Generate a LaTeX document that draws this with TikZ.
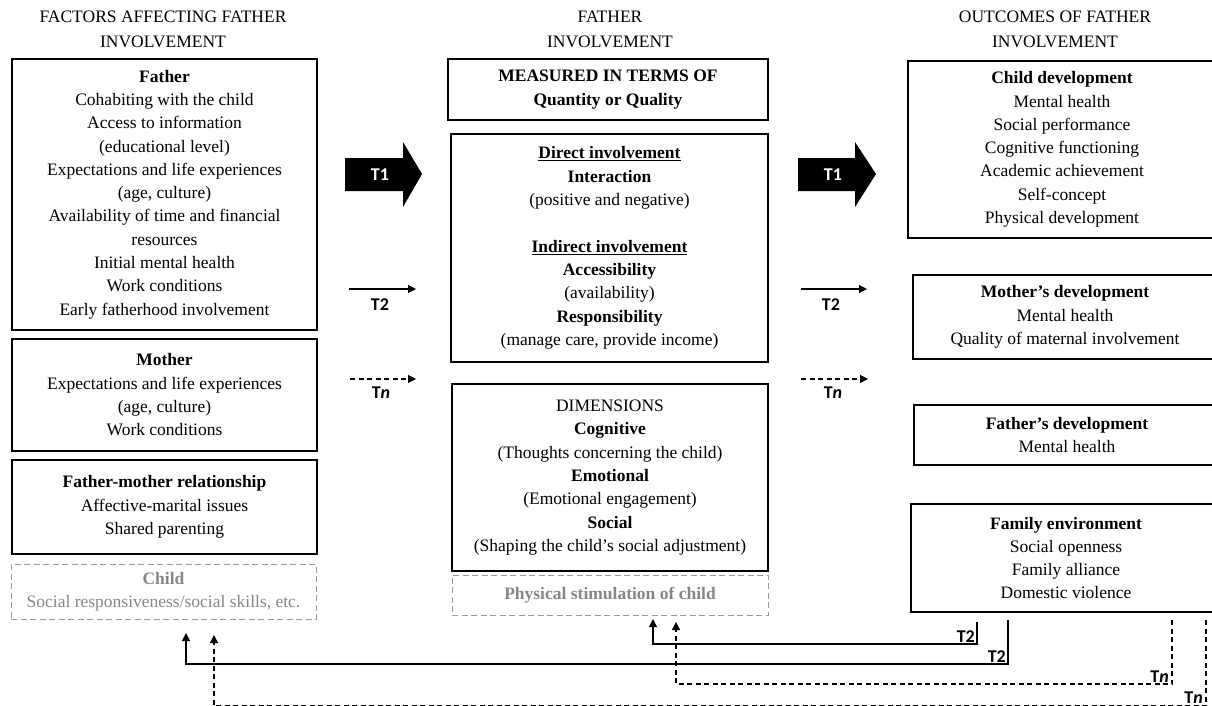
\documentclass[tikz,border=0pt]{standalone}
\usepackage{fontspec}
\setmainfont{Liberation Serif}
\newfontfamily\labfont{Carlito}
\usetikzlibrary{arrows.meta}
\begin{document}
\begin{tikzpicture}[x=1pt,y=-1pt,
  every node/.style={inner sep=0pt, align=center},
  txt/.style={font=\fontsize{17.5}{23.3}\selectfont},
  hdr/.style={font=\fontsize{17.5}{25}\selectfont},
  box/.style={draw, line width=1.2pt, txt},
  gbox/.style={draw=gray!80, dash pattern=on 6pt off 3.5pt, line width=1pt, txt, text=gray!95},
  lbl/.style={font=\labfont\bfseries\fontsize{18}{18}\selectfont},
  conn/.style={line width=1.1pt, -{Triangle[length=8pt,width=8pt]}},
  dconn/.style={conn, dash pattern=on 5pt off 3.5pt},
  bigarrow/.style={fill=black}
]
\useasboundingbox (0,0) rectangle (1212,706);

% headers
\node[hdr] (h1) at (163,29.5) {FACTORS AFFECTING FATHER\\INVOLVEMENT};
\node[hdr] (h2) at (610,29.5) {FATHER\\INVOLVEMENT};
\node[hdr] (h3) at (1055,29.5) {OUTCOMES OF FATHER\\INVOLVEMENT};

% left column
\node[box, minimum width=305pt, minimum height=271pt] (father) at (164.5,194.5)
 {\textbf{Father}\\Cohabiting with the child\\Access to information\\(educational level)\\Expectations and life experiences\\(age, culture)\\Availability of time and financial\\resources\\Initial mental health\\Work conditions\\Early fatherhood involvement};
\node[box, minimum width=305pt, minimum height=112pt] (mother) at (164.5,395)
 {\textbf{Mother}\\Expectations and life experiences\\(age, culture)\\Work conditions};
\node[box, minimum width=305pt, minimum height=94pt] (fmrel) at (164.5,507)
 {\textbf{Father-mother relationship}\\Affective-marital issues\\Shared parenting};
\node[gbox, minimum width=305pt, minimum height=55pt] (child) at (163.5,591.5)
 {\textbf{Child}\\Social responsiveness/social skills, etc.};

% middle column
\node[box, minimum width=320pt, minimum height=61pt] (measured) at (608,89.5)
 {\textbf{MEASURED IN TERMS OF}\\\textbf{Quantity or Quality}};
\node[box, minimum width=317pt, minimum height=228pt] (inv) at (609.5,248)
 {\textbf{\underline{Direct involvement}}\\\textbf{Interaction}\\(positive and negative)\\[23.3pt]\textbf{\underline{Indirect involvement}}\\\textbf{Accessibility}\\(availability)\\\textbf{Responsibility}\\(manage care, provide income)};
\node[box, minimum width=316pt, minimum height=187pt] (dim) at (610,477.5)
 {DIMENSIONS\\\textbf{Cognitive}\\(Thoughts concerning the child)\\\textbf{Emotional}\\(Emotional engagement)\\\textbf{Social}\\(Shaping the child’s social adjustment)};
\node[gbox, minimum width=316pt, minimum height=40pt] (phys) at (610,595)
 {\textbf{Physical stimulation of child}};

% right column (clipped at right edge)
\node[box, minimum width=308pt, minimum height=177pt] (cdev) at (1062,149.5)
 {\textbf{Child development}\\Mental health\\Social performance\\Cognitive functioning\\Academic achievement\\Self-concept\\Physical development};
\node[box, minimum width=304pt, minimum height=84pt] (mdev) at (1065,317)
 {\textbf{Mother’s development}\\Mental health\\Quality of maternal involvement};
\node[box, minimum width=306pt, minimum height=60pt] (fdev) at (1067,435)
 {\textbf{Father’s development}\\Mental health};
\node[box, minimum width=310pt, minimum height=108pt] (fam) at (1066,558)
 {\textbf{Family environment}\\Social openness\\Family alliance\\Domestic violence};

% big T1 arrows
\path[bigarrow] (345,158) -- (403,158) -- (403,142) -- (422,174) -- (403,207) -- (403,191) -- (345,191) -- cycle;
\node[lbl, text=white] (t1a) at (380,175) {T1};
\path[bigarrow] (798,158) -- (855,158) -- (855,142) -- (876,174) -- (855,207) -- (855,191) -- (798,191) -- cycle;
\node[lbl, text=white] (t1b) at (833,175) {T1};

% T2 and Tn arrows
\coordinate (a2s) at (349,289); \coordinate (a2e) at (416,289);
\draw[conn] (a2s) -- (a2e);
\node[lbl] (t2a) at (380,305) {T2};
\coordinate (ans) at (350,379); \coordinate (ane) at (416,379);
\draw[dconn] (ans) -- (ane);
\node[lbl] (tna) at (381,393) {T\textit{n}};

\coordinate (b2s) at (801,289); \coordinate (b2e) at (867,289);
\draw[conn] (b2s) -- (b2e);
\node[lbl] (t2b) at (831,305) {T2};
\coordinate (bns) at (801,379); \coordinate (bne) at (868,379);
\draw[dconn] (bns) -- (bne);
\node[lbl] (tnb) at (833,393) {T\textit{n}};

% feedback loops
\coordinate (f1s) at (977,622); \coordinate (f1e) at (653,619);
\draw[conn] (f1s) -- (977,644) -- (653,644) -- (f1e);
\node[lbl, anchor=south east] (f1l) at (975,643) {T2};

\coordinate (f2s) at (1008,620); \coordinate (f2e) at (186,633);
\draw[conn] (f2s) -- (1008,664) -- (186,664) -- (f2e);
\node[lbl, anchor=south east] (f2l) at (1006,663) {T2};

\coordinate (f3s) at (1172,620); \coordinate (f3e) at (676,622);
\draw[dconn] (f3s) -- (1172,684) -- (676,684) -- (f3e);
\node[lbl, anchor=south east] (f3l) at (1169,683) {T\textit{n}};

\coordinate (f4s) at (1206,620); \coordinate (f4e) at (214,635);
\draw[dconn] (f4s) -- (1206,706) -- (214,706) -- (f4e);
\node[lbl, anchor=south east] (f4l) at (1203,704) {T\textit{n}};
\end{tikzpicture}
\end{document}
